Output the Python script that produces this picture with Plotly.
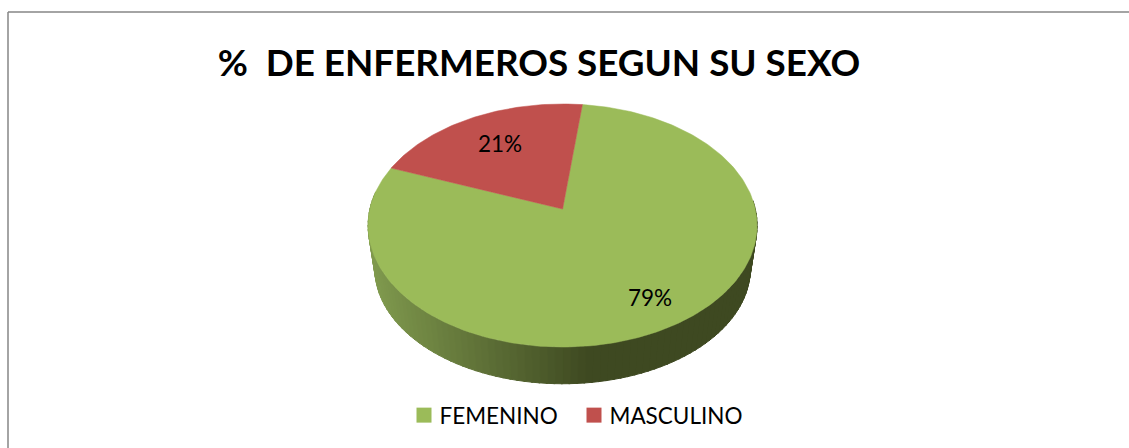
import math
import plotly.graph_objects as go

categories = ["FEMENINO", "MASCULINO"]
values = [79, 21]
percent_labels = ["79%", "21%"]
colors = ["#9BBB59", "#C0504D"]
title_text = "%  DE ENFERMEROS SEGUN SU SEXO"

W, H = 1129, 448
FIRST_ANGLE = 6.7
CX, CY = 562.6, 209.0
A, B, P = 192.7, 119.3, 0.1358
A2, B2, CY2 = 186.0, 113.0, 253.0


def project(theta_deg, a=A, b=B, cy=CY, radius=1.0):
    t = math.radians(theta_deg)
    u, v = radius * math.sin(t), radius * math.cos(t)
    s = 1 / (1 + P * v)
    return CX + a * u * s, cy - b * v * s


def mix(c1, c2, f):
    return "rgb(%d,%d,%d)" % tuple(round(p + (q - p) * f) for p, q in zip(c1, c2))


fig = go.Figure()

# side wall, drawn as narrow strips so it can carry the horizontal shading
LIGHT, DARK = (128, 154, 78), (62, 73, 33)
for deg in range(86, 278, 2):
    xs, ys = [], []
    for d in (deg, deg + 2.4):
        x, y = project(d)
        xs.append(x)
        ys.append(y)
    for d in (deg + 2.4, deg):
        x, y = project(d, A2, B2, CY2)
        xs.append(x)
        ys.append(y)
    f = min(1, max(0, (sum(xs) / 4 - 372) / 215))
    col = mix(LIGHT, DARK, f)
    fig.add_trace(go.Scatter(x=xs + xs[:1], y=ys + ys[:1], mode="lines", fill="toself",
                             fillcolor=col, line=dict(color=col, width=1),
                             hoverinfo="skip", showlegend=False))

# top face, computed from the values
total = sum(values)
start = FIRST_ANGLE
mid = []
for name, val, col in zip(categories, values, colors):
    sweep = 360 * val / total
    n = max(2, int(sweep))
    xs, ys = [CX], [CY]
    for i in range(n + 1):
        x, y = project(start + sweep * i / n)
        xs.append(x)
        ys.append(y)
    xs.append(CX)
    ys.append(CY)
    fig.add_trace(go.Scatter(x=xs, y=ys, mode="lines", fill="toself", fillcolor=col,
                             line=dict(color=col, width=0.5), name=name,
                             hoverinfo="name", showlegend=False))
    mid.append(start + sweep / 2)
    start += sweep

# legend keys
for name, col in zip(categories, colors):
    fig.add_trace(go.Scatter(x=[None], y=[None], mode="markers", name=name,
                             marker=dict(symbol="square", size=15, color=col)))

# percent labels, placed along each slice's mid-angle
label_radius = [0.80, 0.68]
for lab, m, r in zip(percent_labels, mid, label_radius):
    x, y = project(m, radius=r)
    fig.add_annotation(x=x, y=y, text=lab, showarrow=False, xanchor="center", yanchor="middle",
                       yshift=1.5, font=dict(family="Lato", size=22.5, color="#000000"))

fig.update_layout(
    width=W, height=H, autosize=False,
    margin=dict(l=0, r=0, t=0, b=0),
    paper_bgcolor="#ffffff", plot_bgcolor="#ffffff",
    xaxis=dict(range=[0, W], visible=False, fixedrange=True),
    yaxis=dict(range=[H, 0], visible=False, fixedrange=True),
    title=dict(text=title_text, x=539 / W, xanchor="center", y=1 - 63 / H, yanchor="middle",
               font=dict(family="Lato", size=36.8, color="#000000", weight="bold")),
    legend=dict(orientation="h", x=399.5 / W, xanchor="left", y=1 - 415.5 / H, yanchor="middle",
                entrywidth=125, entrywidthmode="pixels",
                font=dict(family="Lato", size=22.5, color="#000000"),
                itemclick=False, itemdoubleclick=False, bgcolor="rgba(0,0,0,0)"),
    shapes=[
        dict(type="line", xref="paper", yref="paper", x0=8 / W, x1=1, y0=1 - 12 / H, y1=1 - 12 / H,
             line=dict(color="#868686", width=1.5), layer="below"),
        dict(type="line", xref="paper", yref="paper", x0=8 / W, x1=8 / W, y0=0, y1=1 - 12 / H,
             line=dict(color="#868686", width=1.5), layer="below"),
    ],
)
fig.write_html("out.html", config=dict(displayModeBar=False),
               post_script="document.body.style.margin='0';document.documentElement.style.overflow='hidden';"
                           "document.querySelectorAll('.legendpoints').forEach(function(g){g.setAttribute('transform','translate(4.5,0)');});"
                           "document.querySelectorAll('.legend, .legend *').forEach(function(g){g.removeAttribute('clip-path');g.style.clipPath='none';});")
